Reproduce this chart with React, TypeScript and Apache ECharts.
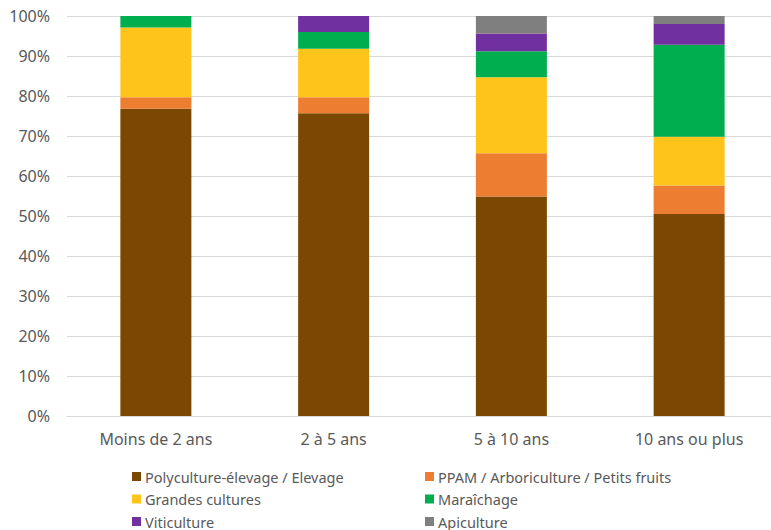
import React, { useEffect, useRef } from "react";
import * as echarts from "echarts";

const categories = ["Moins de 2 ans", "2 à 5 ans", "5 à 10 ans", "10 ans ou plus"];
const polyculture = [76.8, 75.7, 54.9, 50.5];
const ppam = [2.9, 4.0, 10.8, 7.1];
const grandes = [17.4, 12.1, 19.0, 12.2];
const maraichage = [2.9, 4.2, 6.5, 23.0];
const viticulture = [0, 4.0, 4.4, 5.2];
const apiculture = [0, 0, 4.4, 2.0];

const seriesNames = [
  "Polyculture-élevage / Elevage",
  "PPAM / Arboriculture / Petits fruits",
  "Grandes cultures",
  "Maraîchage",
  "Viticulture",
  "Apiculture",
];
const seriesValues = [polyculture, ppam, grandes, maraichage, viticulture, apiculture];
const colors = ["#7A4803", "#ED7D31", "#FEC41A", "#00AE4F", "#7030A0", "#7F7F7F"];

const FONT = "'Noto Sans', sans-serif";
const TEXT = "#595959";

export default function App() {
  const ref = useRef<HTMLDivElement>(null);
  useEffect(() => {
    if (!ref.current) return;
    const chart = echarts.init(ref.current, undefined, { renderer: "svg" });
    const legendCommon = {
      orient: "vertical" as const,
      top: 469,
      height: 62,
      itemWidth: 9,
      itemHeight: 9,
      itemGap: 7.5,
      icon: "rect",
      padding: 0,
      textStyle: { color: TEXT, fontSize: 14.5, fontFamily: FONT, padding: [0, 0, 0, -1] },
      selectedMode: false,
    };
    chart.setOption({
      animation: false,
      color: colors,
      grid: { left: 67, right: 0, top: 16, bottom: 114, containLabel: false },
      legend: [
        { ...legendCommon, left: 132, data: [seriesNames[0], seriesNames[2], seriesNames[4]] },
        { ...legendCommon, left: 425, data: [seriesNames[1], seriesNames[3], seriesNames[5]] },
      ],
      xAxis: {
        type: "category",
        data: categories,
        axisLine: { lineStyle: { color: "#D9D9D9", width: 1 } },
        axisTick: { show: false },
        axisLabel: { color: TEXT, fontSize: 16, fontFamily: FONT, margin: 15 },
      },
      yAxis: {
        type: "value",
        min: 0,
        max: 100,
        interval: 10,
        axisLine: { show: false },
        axisTick: { show: false },
        splitLine: { lineStyle: { color: "#D9D9D9", width: 1 } },
        axisLabel: { color: TEXT, fontSize: 16, fontFamily: FONT, margin: 17, formatter: "{value}%" },
      },
      series: seriesNames.map((name, i) => ({
        name,
        type: "bar",
        stack: "total",
        barWidth: 71,
        data: seriesValues[i],
        itemStyle: { color: colors[i] },
      })),
    });
    return () => chart.dispose();
  }, []);
  return (
    <div style={{ width: 771, height: 530, position: "absolute", left: 0, top: 0, overflow: "hidden" }}>
      <div ref={ref} style={{ width: 778, height: 530 }} />
    </div>
  );
}
